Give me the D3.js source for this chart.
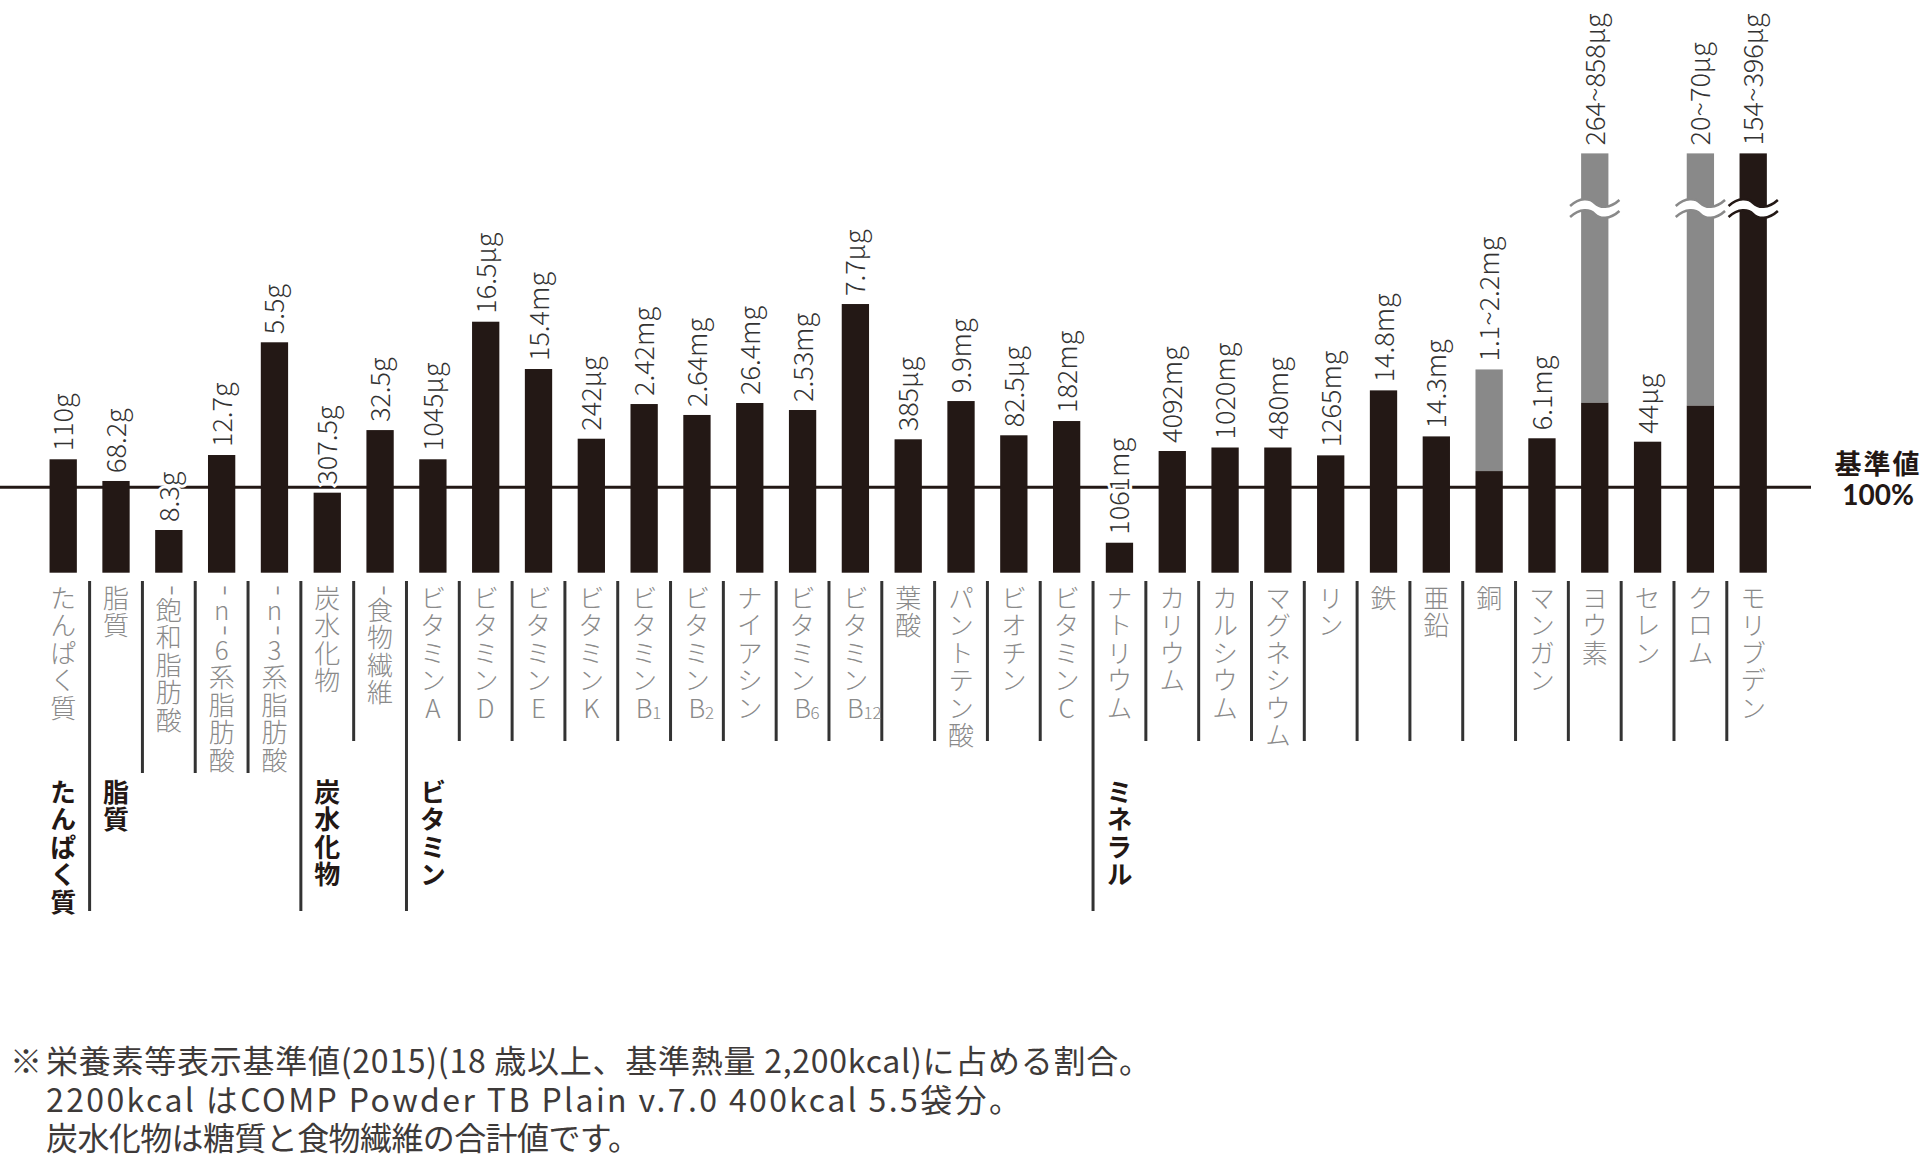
<!DOCTYPE html>
<html>
<head>
<meta charset="utf-8">
<script src="https://cdn.jsdelivr.net/npm/d3@7"></script>
<style>
  body { margin: 0; background: #fff; }
  svg { display: block; }
</style>
</head>
<body>
<svg id="chart"></svg>
<script>
// categories, left to right
const categories = [
  "たんぱく質", "脂質", "-飽和脂肪酸", "-n-6系脂肪酸", "-n-3系脂肪酸", "炭水化物", "-食物繊維",
  "ビタミンA", "ビタミンD", "ビタミンE", "ビタミンK", "ビタミンB1", "ビタミンB2", "ナイアシン",
  "ビタミンB6", "ビタミンB12", "葉酸", "パントテン酸", "ビオチン", "ビタミンC",
  "ナトリウム", "カリウム", "カルシウム", "マグネシウム", "リン", "鉄", "亜鉛", "銅",
  "マンガン", "ヨウ素", "セレン", "クロム", "モリブデン"
];
// amount printed above each bar
const amounts = [
  "110g", "68.2g", "8.3g", "12.7g", "5.5g", "307.5g", "32.5g",
  "1045μg", "16.5μg", "15.4mg", "242μg", "2.42mg", "2.64mg", "26.4mg",
  "2.53mg", "7.7μg", "385μg", "9.9mg", "82.5μg", "182mg",
  "1061mg", "4092mg", "1020mg", "480mg", "1265mg", "14.8mg", "14.3mg", "1.1~2.2mg",
  "6.1mg", "264~858μg", "44μg", "20~70μg", "154~396μg"
];
// % of the reference value (black part)
const percents = [
  132.8, 107.4, 50, 137.8, 269.8, 93.7, 167,
  132.8, 293.9, 238.5, 156.9, 197.5, 184.7, 198.7,
  190.5, 314.6, 156.2, 201, 160.9, 177.6,
  35.1, 142.5, 146.6, 146.6, 137.4, 213.5, 159.6, 119,
  157.4, 199, 153.4, 195.6, 491
];
// upper end of a range (grey part), null when there is none
const upperPercents = [
  null, null, null, null, null, null, null,
  null, null, null, null, null, null, null,
  null, null, null, null, null, null,
  null, null, null, null, null, null, null, 238,
  null, 491, null, 491, null
];
// bars drawn cut with a break mark
const brokenBars = ["ヨウ素", "クロム", "モリブデン"];
const breakPercent = 427;
// groups
const groupNames = ["たんぱく質", "脂質", "炭水化物", "ビタミン", "ミネラル"];
const groupStarts = [0, 1, 5, 7, 20];
const footnotes = [
  "栄養素等表示基準値(2015)(18 歳以上、基準熱量 2,200kcal)に占める割合。",
  "2200kcal はCOMP Powder TB Plain v.7.0 400kcal 5.5袋分。",
  "炭水化物は糖質と食物繊維の合計値です。"
];
const footnoteWidths = [1105, 975, 594];

const W = 1930, H = 1166;
const BLACK = "#231815", GREY = "#898989", LABEL_GREY = "#8a8a8a";
const FONT = "'Noto Sans CJK JP', 'Noto Sans', sans-serif";

const svg = d3.select("#chart").attr("width", W).attr("height", H);

const x = d3.scalePoint().domain(categories).range([63.2, 1753.2]);
const y = d3.scaleLinear().domain([0, 100]).range([572.7, 487.3]);
const barW = 27.3;

function groupOf(i) {
  let g = 0;
  groupStarts.forEach((s, k) => { if (i >= s) g = k; });
  return g;
}

// reference line (100%)
svg.append("line")
  .attr("x1", 0).attr("x2", 1811)
  .attr("y1", y(100)).attr("y2", y(100))
  .attr("stroke", BLACK).attr("stroke-width", 3);

// bars
const bars = svg.append("g");
categories.forEach((c, i) => {
  const cx = x(c);
  if (upperPercents[i] != null) {
    bars.append("rect")
      .attr("x", cx - barW / 2).attr("width", barW)
      .attr("y", y(upperPercents[i]))
      .attr("height", y(percents[i]) - y(upperPercents[i]))
      .attr("fill", GREY);
  }
  bars.append("rect")
    .attr("x", cx - barW / 2).attr("width", barW)
    .attr("y", y(percents[i]))
    .attr("height", y(0) - y(percents[i]))
    .attr("fill", BLACK);
});

// break marks
function wave(p, x0, x1, yc, back) {
  const w = x1 - x0;
  if (!back) {
    p.bezierCurveTo(x0 + w * 0.2, yc - 6, x0 + w * 0.4, yc - 5, x0 + w * 0.5, yc);
    p.bezierCurveTo(x0 + w * 0.6, yc + 5, x0 + w * 0.8, yc + 6, x1, yc - 3);
  } else {
    p.bezierCurveTo(x0 + w * 0.8, yc + 6, x0 + w * 0.6, yc + 5, x0 + w * 0.5, yc);
    p.bezierCurveTo(x0 + w * 0.4, yc - 5, x0 + w * 0.2, yc - 6, x0, yc + 3);
  }
}
brokenBars.forEach(name => {
  const i = categories.indexOf(name);
  const cx = x(name);
  const yb = y(breakPercent);
  const x0 = cx - barW / 2 - 11, x1 = cx + barW / 2 + 11;
  const col = upperPercents[i] != null ? GREY : BLACK;
  const yTop = yb - 5, yBot = yb + 6;
  const band = d3.path();
  band.moveTo(x0, yTop + 3);
  wave(band, x0, x1, yTop, false);
  band.lineTo(x1, yBot - 3);
  wave(band, x0, x1, yBot, true);
  band.closePath();
  svg.append("path").attr("d", band.toString()).attr("fill", "#fff");
  [yTop, yBot].forEach(yy => {
    const p = d3.path();
    p.moveTo(x0, yy + 3);
    wave(p, x0, x1, yy, false);
    svg.append("path").attr("d", p.toString())
      .attr("fill", "none").attr("stroke", col).attr("stroke-width", 2.5);
  });
});

// amount labels
categories.forEach((c, i) => {
  const top = y(upperPercents[i] != null ? upperPercents[i] : percents[i]);
  svg.append("text")
    .attr("transform", `translate(${x(c) + 10},${top - 8}) rotate(-90)`)
    .attr("font-family", FONT).attr("font-size", 27).attr("font-weight", 300)
    .attr("fill", "#333")
    .attr("stroke", "#fff").attr("stroke-width", 6).attr("paint-order", "stroke")
    .text(amounts[i]);
});

// separators under the bars
for (let i = 0; i < categories.length - 1; i++) {
  const xm = (x(categories[i]) + x(categories[i + 1])) / 2;
  let yEnd = 741;
  if (groupStarts.includes(i + 1)) yEnd = 911;
  else if (groupOf(i) === 1 && groupOf(i + 1) === 1) yEnd = 773;
  svg.append("line")
    .attr("x1", xm).attr("x2", xm).attr("y1", 581).attr("y2", yEnd)
    .attr("stroke", "#333").attr("stroke-width", 3);
}

// vertical (tategaki) labels
const SPACING = 1.5;
function verticalLabel(g, label, cx, top, size, weight, color) {
  const m = label.match(/^(.*B)(\d+)$/);
  const main = m ? m[1] : label;
  const t = g.append("text")
    .attr("x", cx).attr("y", top)
    .attr("font-family", FONT).attr("font-size", size)
    .attr("font-weight", weight).attr("fill", color)
    .attr("letter-spacing", SPACING)
    .style("writing-mode", "vertical-rl")
    .style("text-orientation", "upright");
  // the hyphen is set sideways so it reads as a short vertical stroke
  main.split(/(-)/).filter(s => s.length).forEach(part => {
    const ts = t.append("tspan").text(part);
    if (part === "-") {
      ts.style("text-orientation", "sideways")
        .attr("font-size", size * 1.25)
        .attr("baseline-shift", "9px");
    }
  });
  if (m) {
    const n = Array.from(main).length;
    g.append("text")
      .attr("x", cx + 8).attr("y", top + n * (size + SPACING) - 4)
      .attr("font-family", FONT).attr("font-size", 17)
      .attr("font-weight", weight).attr("fill", color)
      .text(m[2]);
  }
}

const catG = svg.append("g");
categories.forEach(c => verticalLabel(catG, c, x(c), 585, 26, 300, LABEL_GREY));

const grpG = svg.append("g");
groupNames.forEach((gname, k) => {
  verticalLabel(grpG, gname, x(categories[groupStarts[k]]), 779, 26, 700, BLACK);
});

// right-hand legend of the reference line
const legend = svg.append("text")
  .attr("text-anchor", "middle")
  .attr("font-family", FONT).attr("font-weight", 700)
  .attr("fill", BLACK);
legend.append("tspan")
  .attr("x", 1878).attr("y", 474)
  .attr("font-size", 27).attr("letter-spacing", 2)
  .text("基準値");
legend.append("tspan")
  .attr("x", 1878).attr("y", 505)
  .attr("font-size", 28).attr("font-family", "Lato, " + FONT)
  .text("100%");

// footnote
const foot = svg.append("text")
  .attr("font-family", FONT).attr("font-size", 32).attr("fill", "#3e3a39");
foot.append("tspan").attr("x", 10).attr("y", 1073).text("※");
footnotes.forEach((line, k) => {
  foot.append("tspan")
    .attr("x", 46).attr("y", 1073 + k * 38.5)
    .attr("textLength", footnoteWidths[k]).attr("lengthAdjust", "spacing")
    .text(line);
});
</script>
</body>
</html>
